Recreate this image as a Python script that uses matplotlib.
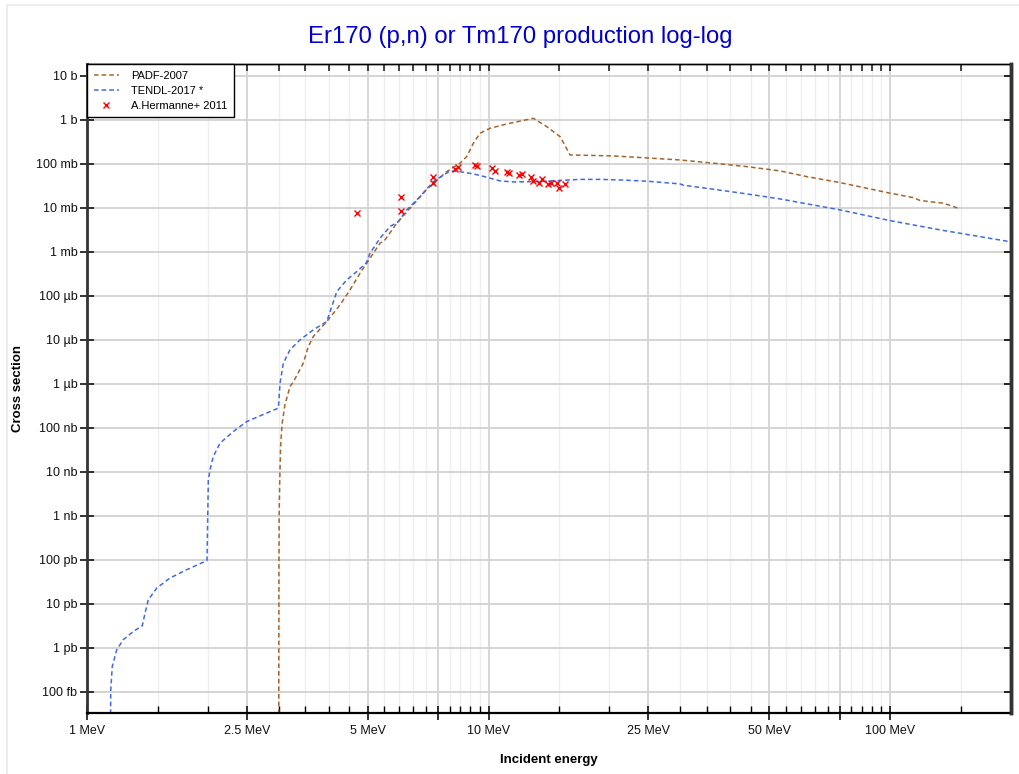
import numpy as np
import matplotlib
matplotlib.use("Agg")
import matplotlib.pyplot as plt
from matplotlib.ticker import FixedLocator, FuncFormatter, NullFormatter
from matplotlib.patches import Rectangle

# energies in MeV, cross sections in barn
padf_e = [3.0, 3.005, 3.01, 3.02, 3.035, 3.06, 3.11, 3.203, 3.264, 3.457, 3.558, 3.661,
          3.954, 4.267, 4.519, 4.786, 4.973, 5.368, 5.524, 5.906, 6.376, 7.018, 7.868,
          8.492, 8.824, 9.166, 9.524, 10.09, 11.10, 12.93, 13.96, 15.07, 15.96, 20.46,
          24.78, 29.99, 36.30, 43.97, 53.21, 62.02, 75.08, 100.0, 114.3, 118.8, 135.8, 149.4]
padf_xs = [1e-16, 3.5e-11, 1.15e-09, 6.6e-09, 3.8e-08, 1.2e-07, 3.3e-07, 8.7e-07, 1.1e-06,
           2.95e-06, 7.05e-06, 1.19e-05, 2.61e-05, 6.24e-05, 1.37e-04, 3.28e-04, 5.53e-04,
           1.58e-03, 1.88e-03, 4.49e-03, 9.84e-03, 2.66e-02, 6.68e-02, 0.104, 0.147, 0.295,
           0.499, 0.647, 0.811, 1.09, 0.705, 0.417, 0.160, 0.152, 0.137, 0.123, 0.104,
           8.69e-02, 6.93e-02, 5.14e-02, 3.76e-02, 2.16e-02, 1.71e-02, 1.47e-02, 1.28e-02, 9.5e-03]

tendl_e = [1.14, 1.146, 1.156, 1.186, 1.231, 1.304, 1.373, 1.395, 1.421, 1.492, 1.609, 1.771,
           1.99, 2.005, 2.025, 2.063, 2.145, 2.314, 2.5, 2.8, 2.996, 3.025, 3.083, 3.203,
           3.393, 3.661, 3.954, 4.07, 4.188, 4.435, 4.696, 4.954, 5.069, 5.368, 5.684, 5.962,
           6.257, 6.752, 7.288, 8.019, 8.492, 9.166, 9.897, 10.68, 11.53, 12.93, 14.79, 16.9,
           18.95, 21.26, 24.78, 29.99, 30.56, 36.3, 43.97, 53.21, 75.08, 100.0, 133.2, 200.0]
tendl_xs = [1e-16, 1.1e-13, 3.8e-13, 9.0e-13, 1.52e-12, 2.34e-12, 3.16e-12, 6.15e-12, 1.23e-11,
            2.28e-11, 3.84e-11, 5.93e-11, 9.6e-11, 6.6e-09, 1.11e-08, 2.23e-08, 4.49e-08,
            8.24e-08, 1.39e-07, 2.16e-07, 2.81e-07, 1.04e-06, 2.95e-06, 5.93e-06, 1.0e-05,
            1.69e-05, 2.61e-05, 5.71e-05, 1.25e-04, 2.31e-04, 3.56e-04, 5.53e-04, 9.3e-04,
            2.05e-03, 3.76e-03, 4.89e-03, 9.0e-03, 1.81e-02, 3.96e-02, 6.93e-02, 6.68e-02,
            5.93e-02, 4.99e-02, 4.11e-02, 3.90e-02, 3.96e-02, 4.17e-02, 4.45e-02, 4.45e-02,
            4.32e-02, 4.05e-02, 3.51e-02, 3.28e-02, 2.66e-02, 2.08e-02, 1.60e-02, 9.0e-03,
            5.14e-03, 3.16e-03, 1.69e-03]

exp_e = [4.696, 6.055, 6.055, 7.261, 7.261, 8.253, 8.381, 9.255, 9.378, 10.19, 10.38, 11.10,
         11.27, 11.91, 12.10, 12.74, 12.93, 13.38, 13.57, 14.09, 14.31, 14.84, 14.98, 15.50]
exp_xs = [7.6e-3, 1.81e-2, 8.7e-3, 4.99e-2, 3.64e-2, 7.59e-2, 8.41e-2, 9.49e-2, 9.14e-2,
          7.98e-2, 7.05e-2, 6.68e-2, 6.34e-2, 5.71e-2, 5.83e-2, 4.99e-2, 4.17e-2, 3.76e-2,
          4.49e-2, 3.51e-2, 3.64e-2, 3.64e-2, 2.89e-2, 3.51e-2]

x_major = [1, 2.5, 5, 7.5, 10, 25, 50, 75, 100]
x_labels = {1: "1 MeV", 2.5: "2.5 MeV", 5: "5 MeV", 10: "10 MeV",
            25: "25 MeV", 50: "50 MeV", 100: "100 MeV"}
y_units = ["b", "mb", "µb", "nb", "pb", "fb"]

plt.rcParams["font.family"] = ["Liberation Sans", "DejaVu Sans"]

fig = plt.figure(figsize=(10.2, 7.74), dpi=100)
fig.patches.append(Rectangle((7 / 1020, -0.1), 1.2, 1.1 - 5 / 774, transform=fig.transFigure,
                             fill=False, edgecolor="#eeeeee", lw=1.5))
ax = fig.add_axes([87 / 1020, 1 - 713 / 774, (1011 - 87) / 1020, (713 - 64) / 774])

ax.set_xscale("log")
ax.set_yscale("log")
ax.set_xlim(1, 200)
ax.set_ylim(3.28e-14, 18.7)

ax.plot(padf_e, padf_xs, color="#a5642c", lw=1.1, ls=(0, (3, 2)), label="PADF-2007")
ax.plot(tendl_e, tendl_xs, color="#4169e1", lw=1.1, ls=(0, (3, 2)), label="TENDL-2017 *")
ax.plot(exp_e, exp_xs, ls="none", marker="x", ms=4.5, mew=1.0, color="#ff0000",
        label="A.Hermanne+ 2011")

# x ticks
minor = []
for dec in [1, 10, 100]:
    for m in np.arange(1.5, 10, 0.5):
        v = m * dec
        if v <= 200 and not any(abs(v - t) < 1e-9 for t in x_major):
            minor.append(v)
ax.xaxis.set_major_locator(FixedLocator(x_major))
ax.xaxis.set_minor_locator(FixedLocator(minor))
ax.xaxis.set_major_formatter(FuncFormatter(lambda v, p: x_labels.get(round(v, 3), "")))
ax.xaxis.set_minor_formatter(NullFormatter())

# y ticks
y_major = [10.0 ** k for k in range(-13, 2)]
def y_fmt(v, p):
    k = int(round(np.log10(v)))
    idx = (-k + 2) // 3
    mant = 10 ** (k + 3 * idx)
    return f"{mant} {y_units[idx]}"
ax.yaxis.set_major_locator(FixedLocator(y_major))
ax.yaxis.set_minor_locator(FixedLocator([]))
ax.yaxis.set_major_formatter(FuncFormatter(y_fmt))

ax.grid(True, which="major", axis="x", color="#cfcfcf", lw=1.2)
ax.grid(True, which="minor", axis="x", color="#eeeeee", lw=1.0)
ax.grid(True, which="major", axis="y", color="#d4d4d4", lw=1.4)
ax.set_axisbelow(True)

ax.tick_params(axis="x", which="major", direction="inout", length=10, width=1.2,
               labelsize=9, pad=4, colors="#111111")
ax.tick_params(axis="x", which="minor", direction="in", length=5, width=1.0)
ax.tick_params(axis="y", which="major", direction="inout", length=10, width=1.2,
               labelsize=9, pad=2, colors="#111111")

# inward ticks on top and right
top = ax.secondary_xaxis("top")
top.xaxis.set_major_locator(FixedLocator(x_major))
top.xaxis.set_minor_locator(FixedLocator(minor))
top.xaxis.set_major_formatter(NullFormatter())
top.xaxis.set_minor_formatter(NullFormatter())
top.tick_params(which="both", direction="in", length=5, width=1.2, color="#222222")
top.spines["top"].set_linewidth(1.0)
top.set_zorder(3)

right = ax.secondary_yaxis("right")
right.yaxis.set_major_locator(FixedLocator(y_major))
right.yaxis.set_minor_locator(FixedLocator([]))
right.yaxis.set_major_formatter(NullFormatter())
right.tick_params(which="both", direction="in", length=5, width=1.4, color="#222222")
right.spines["right"].set_linewidth(2.5)
right.spines["right"].set_color("#333333")
right.set_zorder(3)

ax.spines["left"].set_linewidth(2.0)
ax.spines["left"].set_color("#333333")
ax.spines["bottom"].set_linewidth(1.6)
ax.spines["top"].set_linewidth(1.0)
ax.spines["right"].set_linewidth(2.5)
ax.spines["right"].set_color("#333333")

ax.set_xlabel("Incident energy", fontsize=9.5, fontweight="bold", labelpad=12)
ax.set_ylabel("Cross section", fontsize=9.5, fontweight="bold", labelpad=8)
fig.text(520 / 1020, 1 - 37 / 774, "Er170 (p,n) or Tm170 production log-log",
         color="#0000cc", fontsize=17.2, ha="center", va="center")

leg = ax.legend(loc="upper left", bbox_to_anchor=(0, 1), borderaxespad=0, fontsize=8,
                fancybox=False, framealpha=1, edgecolor="black", handlelength=2.3,
                labelspacing=0.45, borderpad=0.6, handletextpad=1.1)
leg.get_frame().set_linewidth(1.0)
leg.set_zorder(5)

fig.savefig("out.png", dpi=100)
